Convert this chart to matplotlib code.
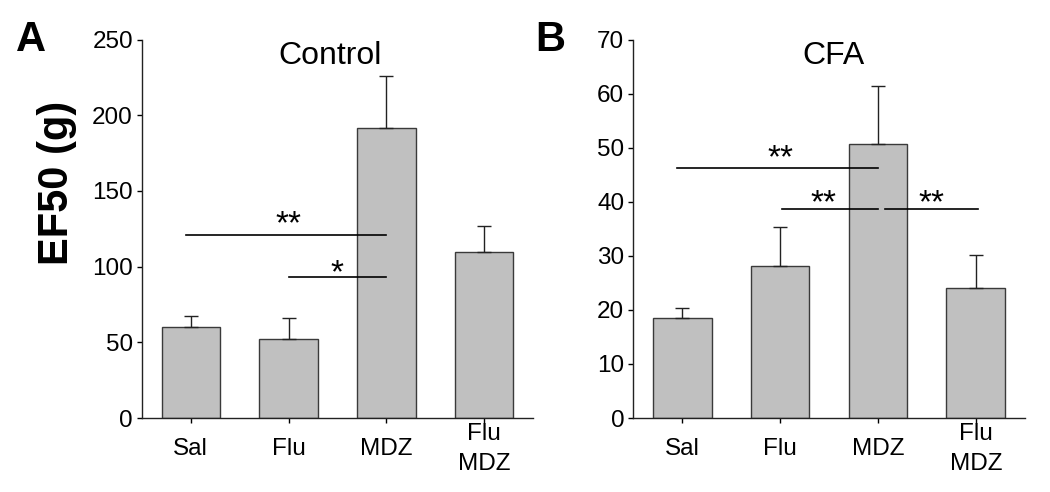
import matplotlib
matplotlib.use("Agg")
import matplotlib.pyplot as plt
import numpy as np

plt.rcParams['font.family'] = ['Liberation Sans', 'DejaVu Sans']

categories = ["Sal", "Flu", "MDZ", "Flu\nMDZ"]

control_means = [60.3, 52.5, 191.5, 109.6]
control_err = [6.9, 13.6, 34.2, 17.0]

cfa_means = [18.5, 28.1, 50.7, 24.0]
cfa_err = [1.9, 7.3, 10.7, 6.2]

# significance brackets: (x_start, x_end, y, label, label_x, label_y)
control_sig = [(-0.05, 2.0, 120.8, "**", 1.0, 117.1),
               (1.0, 2.0, 93.3, "*", 1.5, 85.3)]
cfa_sig = [(-0.05, 2.0, 46.25, "**", 1.0, 45.05),
           (1.02, 2.0, 38.6, "**", 1.44, 36.8),
           (2.07, 3.02, 38.6, "**", 2.55, 36.8)]

fig = plt.figure(figsize=(10.5, 4.92), dpi=100)
axA = fig.add_axes([0.1352, 0.1504, 0.3724, 0.7693])
axB = fig.add_axes([0.6031, 0.1504, 0.3728, 0.7693])

def draw(ax, means, errs, ymax, yticks, sigs, title, title_x, title_y):
    x = np.arange(len(categories))
    ax.bar(x, means, width=0.6, color="#c0c0c0", edgecolor="#3a3a3a", linewidth=1.0, zorder=2)
    ax.errorbar(x, means, yerr=[np.zeros(len(errs)), errs], fmt="none",
                ecolor="#222222", elinewidth=1.0, capsize=5, capthick=1.0, zorder=3)
    ax.set_xlim(-0.5, 3.5)
    ax.set_ylim(0, ymax)
    ax.set_yticks(yticks)
    ax.set_xticks(x)
    ax.set_xticklabels(categories, fontsize=17.5, linespacing=1.45)
    for lab in ax.get_xticklabels():
        lab.set_va("center")
    ax.tick_params(axis="y", labelsize=17.5, direction="out", length=3.5, width=1, pad=3)
    ax.tick_params(axis="x", direction="out", length=3.5, width=1, pad=19)
    for s in ["top", "right"]:
        ax.spines[s].set_visible(False)
    for s in ["left", "bottom"]:
        ax.spines[s].set_color("#222222")
        ax.spines[s].set_linewidth(1.0)
    for (x0, x1, y, lab, lx, ly) in sigs:
        ax.plot([x0, x1], [y, y], color="black", lw=1.2, zorder=4, clip_on=False)
        ax.text(lx, ly, lab, ha="center", va="bottom", fontsize=24, zorder=5)
    ax.text(title_x, title_y, title, ha="center", va="center", fontsize=23)

draw(axA, control_means, control_err, 250, [0, 50, 100, 150, 200, 250],
     control_sig, "Control", 1.42, 239)
draw(axB, cfa_means, cfa_err, 70, [0, 10, 20, 30, 40, 50, 60, 70],
     cfa_sig, "CFA", 1.55, 67)

fig.text(57 / 1050, 1 - 183 / 492, "EF50 (g)", rotation=90, ha="center", va="center",
         fontsize=30, fontweight="bold")
fig.text(31 / 1050, 1 - 40 / 492, "A", ha="center", va="center", fontsize=30, fontweight="bold")
fig.text(550 / 1050, 1 - 40 / 492, "B", ha="center", va="center", fontsize=30, fontweight="bold")

fig.savefig("out.png", dpi=100)
